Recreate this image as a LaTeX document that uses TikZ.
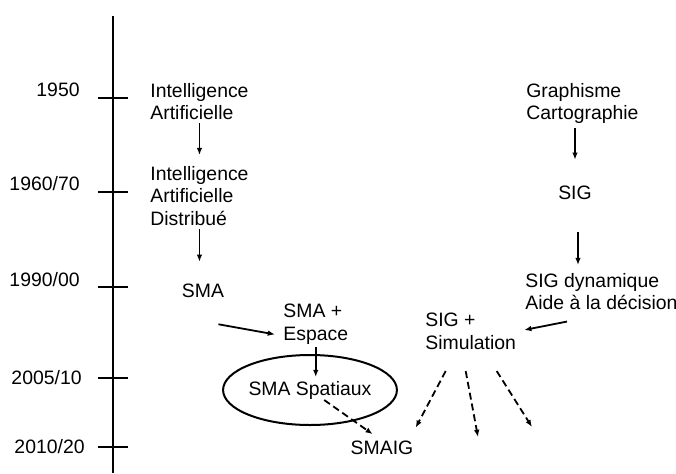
\documentclass[tikz,border=0pt]{standalone}
\usepackage{fontspec}
\setmainfont{Liberation Sans}
\usetikzlibrary{arrows.meta, shapes.geometric, calc}

\begin{document}
\begin{tikzpicture}[x=0.5pt, y=-0.5pt,
    every node/.style={font=\fontsize{9.7}{11.25}\selectfont, inner sep=0pt},
    txt/.style={anchor=north west, align=left},
    arr/.style={line width=0.9pt, -{Latex[length=3.6pt,width=2.8pt]}},
    darr/.style={arr, dash pattern=on 3.5pt off 2pt}]
    \useasboundingbox (0,0) rectangle (676,473);
    % time axis
    \draw[line width=1pt] (113,16) -- (113,473);
    \foreach \ty/\ly/\lx/\yr [count=\i] in {98/90/80/{1950}, 192/184/80/{1960/70}, 287/280/80/{1990/00}, 378/378/82/{2005/10}, 447/447/85/{2010/20}}{
        \draw[line width=1pt] (98,\ty) -- (128,\ty);
        \node[anchor=east] (yr\i) at (\lx,\ly) {\yr};
    }
    % left branch
    \node[txt] (ia) at (150,83) {Intelligence\\Artificielle};
    \node[txt] (iad) at (150,166) {Intelligence\\Artificielle\\Distribué};
    \node (sma) at (203,291) {SMA};
    \node[txt] (smaesp) at (283,304) {SMA +\\Espace};
    \node[draw, ellipse, line width=1pt, minimum width=68pt, minimum height=35pt] (smasp) at (310,390) {SMA Spatiaux};
    \node (smaig) at (382,448) {SMAIG};
    % right branch
    \node[txt] (graph) at (526,83) {Graphisme\\Cartographie};
    \node (sig) at (575,193) {SIG};
    \node[txt] (sigdyn) at (525,273) {SIG dynamique\\Aide à la décision};
    \node[txt] (sigsim) at (425,313) {SIG +\\Simulation};
    %\coordinate (fana) at (415,428);
    \coordinate (fanb) at (478,437);
    \coordinate (fanc) at (532,427);
    \draw[arr, shorten <=1.4pt, shorten >=5.5pt] (ia.south) -- (iad.north);
    \draw[arr, shorten <=1.7pt, shorten >=11pt] (iad.south) -- (iad.south |- sma.north);
    \draw[arr] ([shift={(-6,26)}]sma.south east) -- ([shift={(-8,10)}]smaesp.west);
    \draw[arr, shorten <=1pt, shorten >=6.5pt] (smaesp.south) -- (smaesp.south |- smasp.center);
    \draw[darr, shorten <=8.7pt, shorten >=5.7pt] (smasp.center) -- (smaig.north);
    \draw[arr, shorten <=2pt, shorten >=13pt] (sig.north |- graph.south) -- (sig.north);
    \draw[arr, shorten <=16pt, shorten >=4pt] ($(sig.south)+(3,0)$) -- ($(sig.south |- sigdyn.north)+(3,0)$);
    \draw[arr, shorten >=4pt] ([shift={(42,11)}]sigdyn.south west) -- (sigsim.east);
    \draw[darr] ([shift={(-25,21)}]sigsim.south) -- ([shift={(2,-13)}]smaig.north east);
    \draw[darr] ([shift={(-5,21)}]sigsim.south) -- (fanb);
    \draw[darr] ([shift={(26,21)}]sigsim.south) -- (fanc);
\end{tikzpicture}
\end{document}
